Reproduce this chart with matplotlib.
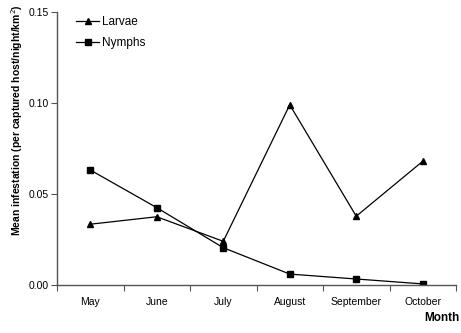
import numpy as np
import matplotlib.pyplot as plt

plt.rcParams['font.family'] = ['Liberation Sans', 'DejaVu Sans']

months = ["May", "June", "July", "August", "September", "October"]
larvae = [0.0334, 0.0375, 0.0240, 0.0990, 0.0378, 0.0680]
nymphs = [0.0632, 0.0425, 0.0205, 0.0060, 0.0033, 0.0006]

fig = plt.figure(figsize=(4.61, 3.33), dpi=100)
ax = fig.add_axes([57 / 461, 48 / 333, 399 / 461, 273 / 333])

x = np.arange(len(months))
ax.plot(x, larvae, color="black", lw=0.9, marker="^", ms=4.5, label="Larvae")
ax.plot(x, nymphs, color="black", lw=0.9, marker="s", ms=3.8, label="Nymphs")

ax.set_xlim(-0.5, len(months) - 0.5)
ax.set_ylim(0, 0.15)
ax.set_yticks([0, 0.05, 0.10, 0.15])
ax.set_yticklabels(["0.00", "0.05", "0.10", "0.15"], fontsize=7.5)

# category ticks sit between the months, labels centred on each month
ax.set_xticks(np.arange(-0.5, len(months), 1.0))
ax.set_xticklabels([])
ax.set_xticks(x, minor=True)
ax.set_xticklabels(months, minor=True, fontsize=7.5)
ax.tick_params(axis="x", which="minor", length=0, pad=8.5)
ax.tick_params(axis="x", which="major", length=4, width=0.8, color="#555555")
ax.tick_params(axis="y", length=4, width=0.8, color="#555555", pad=2)

for side in ["top", "right"]:
    ax.spines[side].set_visible(False)
for side in ["left", "bottom"]:
    ax.spines[side].set_color("#555555")
    ax.spines[side].set_linewidth(1.0)

ax.set_ylabel("Mean infestation (per captured host/night/km$^2$)",
              fontsize=7.5, fontweight="bold")
ax.yaxis.set_label_coords(-0.08, 0.604)
fig.text(0.997, 0.028, "Month", fontsize=8.5, fontweight="bold",
         ha="right", va="bottom")

ax.legend(loc="upper left", bbox_to_anchor=(0.022, 1.025), frameon=False,
          fontsize=8.5, handlelength=1.9, handletextpad=0.25, labelspacing=0.75)

fig.savefig("out.png", dpi=100)
